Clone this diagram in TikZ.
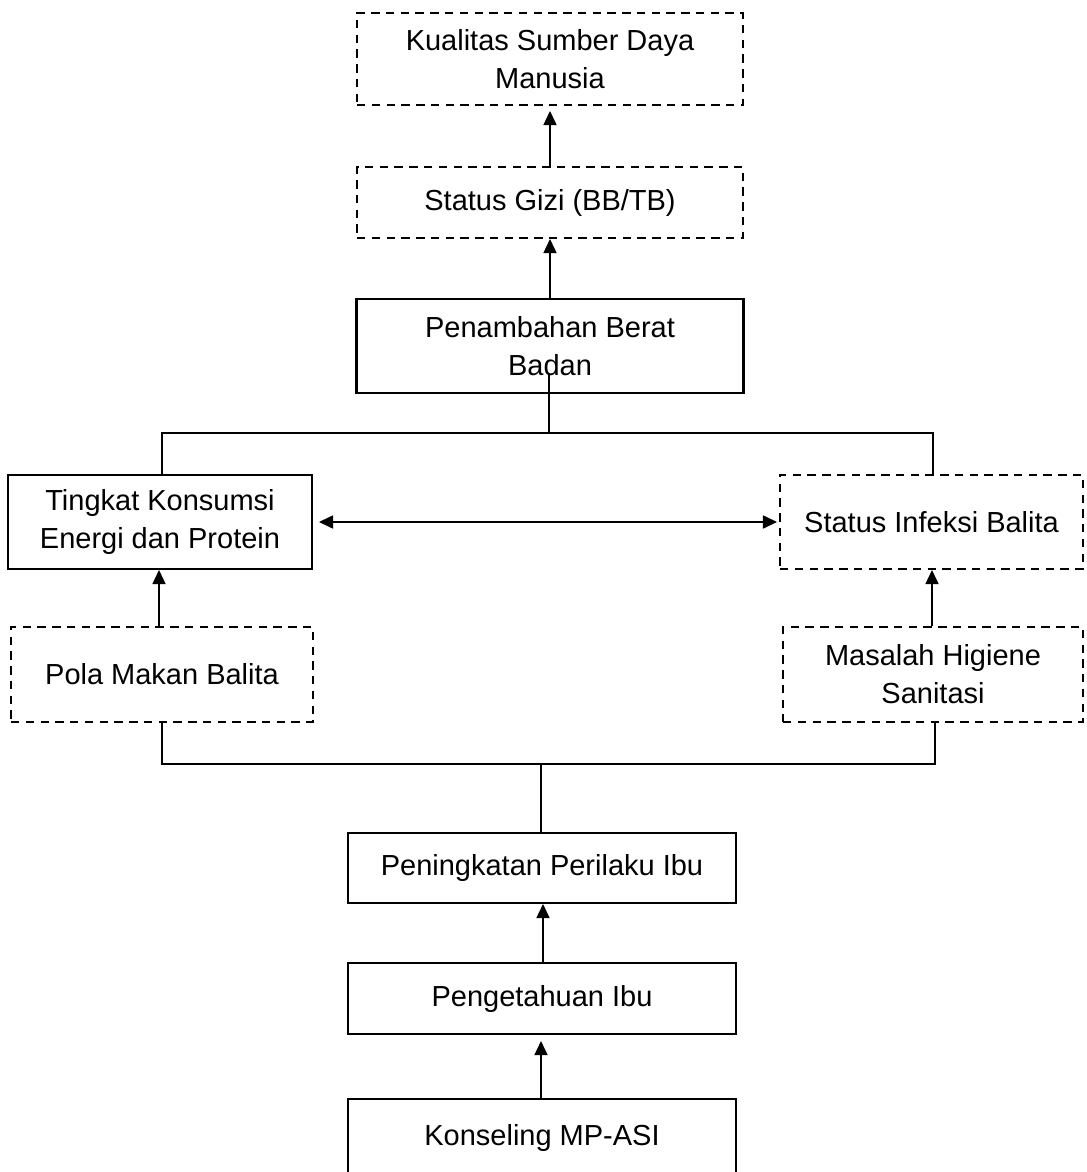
\documentclass[tikz,border=0pt]{standalone}
\usepackage{fontspec}
\setmainfont{Liberation Sans}
\usetikzlibrary{arrows.meta,calc}
\tikzset{
  box/.style={draw, line width=1.2pt, inner sep=0pt, align=center,
    font=\fontsize{16.5}{21.7}\selectfont},
  dbox/.style={box, dash pattern=on 4.8pt off 3.6pt},
  conn/.style={line width=0.7pt},
  arr/.style={conn, -{Triangle[length=8pt,width=7.5pt]}},
  darr/.style={conn, {Triangle[length=8pt,width=7.5pt]}-{Triangle[length=8pt,width=7.5pt]}}
}
\begin{document}
\begin{tikzpicture}[x=0.02cm,y=-0.02cm]
\useasboundingbox (0,0) rectangle (1087,1172);
% nodes
\node[dbox, minimum width=7.72cm, minimum height=1.84cm] (s1) at (550,59) {Kualitas Sumber Daya\\Manusia};
\node[dbox, minimum width=7.72cm, minimum height=1.42cm] (s2) at (550,202.5) {Status Gizi (BB/TB)};
\node[box, minimum width=7.74cm, minimum height=1.88cm] (s3) at (550,346) {Penambahan Berat\\Badan};
\node[box, minimum width=6.08cm, minimum height=1.88cm] (s4) at (160,522) {Tingkat Konsumsi\\Energi dan Protein};
\node[dbox, minimum width=6.06cm, minimum height=1.88cm] (s5) at (931.5,522) {Status Infeksi Balita};
\node[dbox, minimum width=6.04cm, minimum height=1.9cm] (s6) at (162,674.5) {Pola Makan Balita};
\node[dbox, minimum width=6.0cm, minimum height=1.9cm] (s7) at (933,674.5) {Masalah Higiene\\Sanitasi};
\node[box, minimum width=7.76cm, minimum height=1.4cm] (s8) at (542,868) {Peningkatan Perilaku Ibu};
\node[box, minimum width=7.76cm, minimum height=1.42cm] (s9) at (542,998.5) {Pengetahuan Ibu};
\node[box, minimum width=7.76cm, minimum height=1.54cm] (s10) at (542,1137.5) {Konseling MP-ASI};
% coordinates
\coordinate (b3) at (549,373);
\coordinate (jt) at (549,433);
\coordinate (tl) at (162,433);
\coordinate (tr) at (933,433);
\coordinate (bl) at (162,764);
\coordinate (br) at (935,764);
\coordinate (bc) at (541,764);
% connectors
\draw[arr, shorten >=0.1cm] (s2.north) -- (s1.south);
\draw[arr] (s3.north) -- (s2.south);
\draw[conn] (b3) -- (jt);
\draw[conn] (tl |- s4.north) -- (tl) -- (tr) -- (tr |- s5.north);
\draw[darr, shorten <=0.12cm, shorten >=0.04cm] (s4.east) -- (s5.west);
\draw[arr] (s6.north -| 159,0) -- (s4.south -| 159,0);
\draw[arr] (s7.north -| 932,0) -- (s5.south -| 932,0);
\draw[conn] (s6.south -| bl) -- (bl) -- (br) -- (br |- s7.south);
\draw[conn] (bc) -- (bc |- s8.north);
\draw[arr] (s9.north -| 543,0) -- (s8.south -| 543,0);
\draw[arr, shorten >=0.12cm] (s10.north -| 541,0) -- (s9.south -| 541,0);
\end{tikzpicture}
\end{document}
